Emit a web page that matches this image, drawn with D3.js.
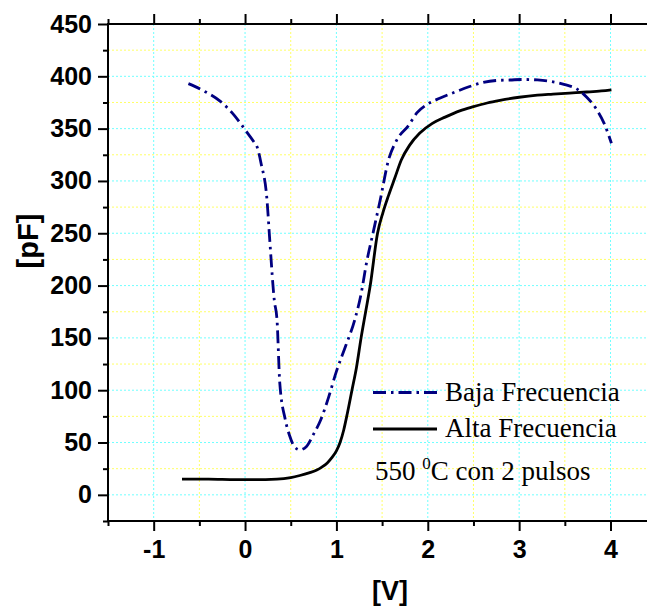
<!DOCTYPE html>
<html>
<head>
<meta charset="utf-8">
<script src="https://cdn.jsdelivr.net/npm/d3@7"></script>
<style>
  html, body { margin: 0; padding: 0; background: #fff; }
  svg { display: block; }
</style>
</head>
<body>
<script>
// ---- data ----
const bajaV = [-0.62, -0.45, -0.27, -0.12, 0.0, 0.1, 0.13, 0.175, 0.24, 0.27, 0.32, 0.35, 0.38, 0.44, 0.49, 0.54, 0.6, 0.67, 0.75, 0.83, 0.91, 1.0, 1.1, 1.2, 1.27, 1.33, 1.40, 1.48, 1.57, 1.66, 1.79, 1.88, 1.99, 2.13, 2.3, 2.45, 2.6, 2.75, 2.9, 3.05, 3.2, 3.35, 3.5, 3.63, 3.74, 3.85, 3.93, 4.01];
const bajaC = [393, 386, 376, 363, 349, 337, 333, 317, 282, 244, 186, 167, 107, 72, 56, 46, 43, 46, 58, 72, 92, 118, 142, 167, 192, 222, 250, 282, 320, 339, 353, 365, 373, 379, 385, 390, 394, 396, 396.5, 397, 396.5, 395, 392, 388, 380, 368, 355, 336];

const altaV = [-0.69, -0.4, -0.1, 0.1, 0.35, 0.5, 0.6, 0.7, 0.78, 0.84, 0.9, 0.95, 1.0, 1.04, 1.08, 1.12, 1.17, 1.22, 1.27, 1.32, 1.37, 1.45, 1.51, 1.57, 1.64, 1.71, 1.8, 1.91, 2.05, 2.19, 2.35, 2.5, 2.65, 2.79, 3.0, 3.2, 3.37, 3.55, 3.74, 3.9, 4.01];
const altaC = [15, 15, 14.5, 14.5, 15, 16.5, 18.5, 21, 23.5, 26.5, 30.5, 35.5, 42, 50, 62, 78, 100, 122, 150, 175, 200, 250, 270, 286, 303, 320, 334, 345.5, 355, 361, 367, 371, 374.5, 377, 380, 382, 383, 384, 385, 386, 387];

const xTicks = [-1, 0, 1, 2, 3, 4];
const xMinorTicks = [-1.5, -0.5, 0.5, 1.5, 2.5, 3.5];
const yTicks = [0, 50, 100, 150, 200, 250, 300, 350, 400, 450];
const yMinorTicks = [-25, 25, 75, 125, 175, 225, 275, 325, 375, 425];

const seriesNames = ["Baja Frecuencia", "Alta Frecuencia"];
const xTitle = "[V]";
const yTitle = "[pF]";

// ---- layout ----
const W = 647, H = 612;
const L = 108, R = 656.2, T = 24, B = 521;

const svg = d3.select("body").append("svg")
  .attr("width", W).attr("height", H)
  .style("background", "#fff");

const x = d3.scaleLinear().domain([-1.5, 4.5]).range([L, R]);
const y = d3.scaleLinear().domain([-25, 450]).range([B, T]);

// grid
const grid = svg.append("g");
grid.selectAll(".gxm").data(xMinorTicks.filter(d => d > -1.5)).join("line")
  .attr("x1", d => x(d)).attr("x2", d => x(d)).attr("y1", T).attr("y2", B)
  .attr("stroke", "#ffff66").attr("stroke-width", 1).attr("stroke-dasharray", "2,2");
grid.selectAll(".gym").data(yMinorTicks.filter(d => d > -25)).join("line")
  .attr("x1", L).attr("x2", R).attr("y1", d => y(d)).attr("y2", d => y(d))
  .attr("stroke", "#ffff66").attr("stroke-width", 1).attr("stroke-dasharray", "2,2");
grid.selectAll(".gx").data(xTicks).join("line")
  .attr("x1", d => x(d)).attr("x2", d => x(d)).attr("y1", T).attr("y2", B)
  .attr("stroke", "#70ffff").attr("stroke-width", 1).attr("stroke-dasharray", "2,2");
grid.selectAll(".gy").data(yTicks.filter(d => d < 450)).join("line")
  .attr("x1", L).attr("x2", R).attr("y1", d => y(d)).attr("y2", d => y(d))
  .attr("stroke", "#70ffff").attr("stroke-width", 1).attr("stroke-dasharray", "2,2");

// curves
const line = d3.line().x(d => x(d[0])).y(d => y(d[1])).curve(d3.curveMonotoneX);
const bajaData = bajaV.map((v, i) => [v, bajaC[i]]);
const altaData = altaV.map((v, i) => [v, altaC[i]]);

svg.append("path").datum(altaData).attr("d", line)
  .attr("fill", "none").attr("stroke", "#000").attr("stroke-width", 2.8);
svg.append("path").datum(bajaData).attr("d", line)
  .attr("fill", "none").attr("stroke", "#000080").attr("stroke-width", 2.8)
  .attr("stroke-dasharray", "13,5,2.5,5");

// axes
const tickFont = g => g.selectAll("text")
  .attr("font-family", "'Liberation Sans', Arial, sans-serif")
  .attr("font-weight", "bold").attr("font-size", 25).attr("fill", "#000");
const axStyle = g => { g.select(".domain").remove(); g.selectAll("line").attr("stroke", "#000").attr("stroke-width", 2); };

svg.append("g").attr("transform", `translate(${L},0)`)
  .call(d3.axisLeft(y).tickValues(yTicks).tickSize(10).tickPadding(6).tickSizeOuter(0).tickFormat(d => String(d)))
  .call(axStyle).call(tickFont);
svg.append("g").attr("transform", `translate(${L},0)`)
  .call(d3.axisLeft(y).tickValues(yMinorTicks).tickSize(5).tickSizeOuter(0).tickFormat(""))
  .call(axStyle);
svg.append("g").attr("transform", `translate(0,${B})`)
  .call(d3.axisBottom(x).tickValues(xTicks).tickSize(10).tickPadding(9).tickSizeOuter(0).tickFormat(d => String(d)))
  .call(axStyle).call(tickFont);
svg.append("g").attr("transform", `translate(0,${B})`)
  .call(d3.axisBottom(x).tickValues(xMinorTicks).tickSize(5).tickSizeOuter(0).tickFormat(""))
  .call(axStyle);
svg.append("g").attr("transform", `translate(0,${T})`)
  .call(d3.axisTop(x).tickValues(xTicks).tickSize(10).tickSizeOuter(0).tickFormat(""))
  .call(axStyle);
svg.append("g").attr("transform", `translate(0,${T})`)
  .call(d3.axisTop(x).tickValues(xMinorTicks).tickSize(5).tickSizeOuter(0).tickFormat(""))
  .call(axStyle);

// frame
svg.append("rect").attr("x", L).attr("y", T).attr("width", R - L).attr("height", B - T)
  .attr("fill", "none").attr("stroke", "#000").attr("stroke-width", 2);

// titles
svg.append("text").text(xTitle)
  .attr("x", 390).attr("y", 600).attr("text-anchor", "middle")
  .attr("font-family", "'Liberation Sans', Arial, sans-serif").attr("font-weight", "bold").attr("font-size", 27);
svg.append("text").text(yTitle)
  .attr("transform", "translate(38,241) rotate(-90)").attr("text-anchor", "middle")
  .attr("font-family", "'Liberation Sans', Arial, sans-serif").attr("font-weight", "bold").attr("font-size", 29);

// legend
const leg = svg.append("g").attr("font-family", "'Liberation Serif', 'Times New Roman', serif").attr("font-size", 27).attr("fill", "#000");
leg.append("line").attr("x1", 373).attr("x2", 437).attr("y1", 392.5).attr("y2", 392.5)
  .attr("stroke", "#000080").attr("stroke-width", 2.8).attr("stroke-dasharray", "13,5,2.5,5");
leg.append("text").attr("x", 445).attr("y", 401).text(seriesNames[0]);
leg.append("line").attr("x1", 373).attr("x2", 437).attr("y1", 429).attr("y2", 429)
  .attr("stroke", "#000").attr("stroke-width", 2.8);
leg.append("text").attr("x", 445).attr("y", 437).text(seriesNames[1]);
const note = leg.append("text").attr("x", 375).attr("y", 480);
note.append("tspan").text("550 ");
note.append("tspan").attr("font-size", 17).attr("dy", -11).text("0");
note.append("tspan").attr("dy", 11).text("C con 2 pulsos");
</script>
</body>
</html>
